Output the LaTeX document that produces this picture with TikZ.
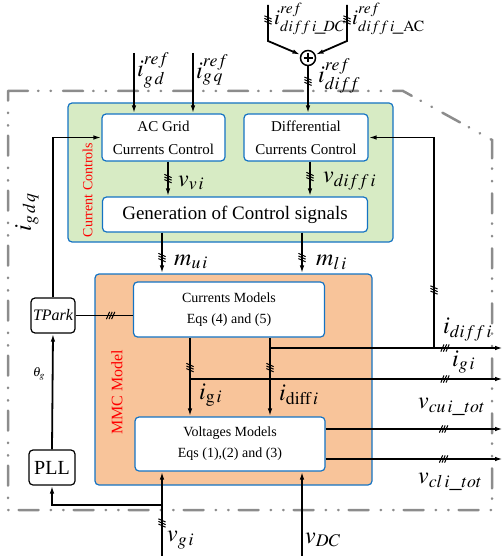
\documentclass[tikz,border=0pt]{standalone}
\usepackage{mathptmx}
\usepackage[no-math]{fontspec}
\setmainfont{Liberation Serif}
\usetikzlibrary{arrows.meta, positioning, calc, decorations.markings}
\definecolor{ccgreen}{RGB}{215,235,196}
\definecolor{mmcorange}{RGB}{248,196,154}
\definecolor{boxblue}{RGB}{20,115,195}
\definecolor{framegray}{RGB}{140,140,140}

\begin{document}
\begin{tikzpicture}[x=1pt, y=-1pt,
  areabox/.style={draw=boxblue, line width=1.2pt, rounded corners=4pt, inner sep=0pt},
  blockbox/.style={draw=boxblue, line width=1.2pt, rounded corners=4pt, fill=white, align=center, inner sep=0pt},
  smallbox/.style={draw, line width=1.2pt, rounded corners=4pt, fill=white, inner sep=0pt},
  sig/.style={line width=1.8pt},
  arr/.style={sig, -{Latex[length=8pt,width=4.5pt]}},
  bus/.style={postaction={decorate, decoration={markings, mark=at position #1 with {
      \foreach \k in {-2.6,0,2.6} \draw[-, line width=1pt] (\k pt-1.6pt,-3.6pt) -- (\k pt+1.6pt,3.6pt);}}}},
  lab/.style={anchor=west, inner sep=0pt, font=\fontsize{24}{26}\selectfont},
]
  \useasboundingbox (0,0) rectangle (503,556);

  % outer frame
  \draw[framegray, line width=2.5pt, line cap=round,
    dash pattern=on 20pt off 10pt on 0.5pt off 12pt on 0.5pt off 12pt]
    (8,91) -- (403,91) -- (492,140) -- (492,510) -- (8,510) -- cycle;

  % areas
  \node[areabox, fill=ccgreen, minimum width=325, minimum height=139] (cc) at (230.5,172.5) {};
  \node[red, rotate=90, font=\fontsize{14}{14}\selectfont] (cclab) at (87.5,190) {Current Controls};
  \node[areabox, fill=mmcorange, minimum width=277, minimum height=211] (mmc) at (233.5,379.5) {};
  \node[red, rotate=90, font=\fontsize{16}{16}\selectfont] (mmclab) at (117,392) {MMC Model};

  % blocks
  \node[blockbox, minimum width=123, minimum height=47, font=\fontsize{15}{23}\selectfont] (acc) at (163.5,137.5) {AC Grid\\Currents Control};
  \node[blockbox, minimum width=124, minimum height=47, font=\fontsize{15}{23}\selectfont] (dcc) at (306,137.5) {Differential\\Currents Control};
  \node[blockbox, minimum width=265, minimum height=35, font=\fontsize{19}{20}\selectfont] (gen) at (235,214.5) {Generation of Control signals};
  \node[blockbox, minimum width=191, minimum height=55, font=\fontsize{14}{21}\selectfont] (cm) at (229,309.5) {Currents Models\\Eqs (4) and (5)};
  \node[blockbox, minimum width=190, minimum height=54, font=\fontsize{14}{21}\selectfont] (vm) at (230,444) {Voltages Models\\Eqs (1),(2) and (3)};
  \node[smallbox, minimum width=44, minimum height=35, font=\fontsize{16}{16}\selectfont\itshape] (tp) at (53,315.5) {TPark};
  \node[smallbox, minimum width=46, minimum height=35, font=\fontsize{20}{20}\selectfont] (pll) at (52,467.5) {PLL};
  \node[draw, circle, line width=1.5pt, minimum size=15, inner sep=0pt, fill=white] (sum) at (308,58) {};
  \draw[line width=1.6pt] ($(sum.center)+(-4.5,0)$) -- ($(sum.center)+(4.5,0)$)
    ($(sum.center)+(0,-4.5)$) -- ($(sum.center)+(0,4.5)$);

  % references
  \coordinate (igdin) at (134,53);
  \coordinate (igqin) at (193,53);
  \draw[arr] (igdin) -- (igdin |- acc.north);
  \draw[arr] (igqin) -- (igqin |- acc.north);
  \coordinate (dcin) at (268,5);
  \coordinate (dcbend) at (268,41);
  \coordinate (acin) at (347,5);
  \coordinate (acbend) at (347,41);
  \draw[arr, bus=15pt] (dcin) -- (dcbend) -- (sum);
  \draw[arr, bus=15pt] (acin) -- (acbend) -- (sum);
  \draw[arr, bus=15pt] (sum) -- (sum |- dcc.north);

  % control signals
  \coordinate (vvix) at (168,0);
  \coordinate (vdix) at (310,0);
  \coordinate (muix) at (162,0);
  \coordinate (mlix) at (302,0);
  \draw[arr, bus=17pt] (vvix |- acc.south) -- (vvix |- gen.north);
  \draw[arr, bus=15pt] (vdix |- dcc.south) -- (vdix |- gen.north);
  \draw[arr, bus=25pt] (muix |- gen.south) -- (muix |- mmc.north);
  \draw[arr, bus=25pt] (mlix |- gen.south) -- (mlix |- mmc.north);

  % park and pll
  \draw[arr] (tp.north) |- (acc.west);
  \draw[sig, bus=35pt] (tp.east) -- (tp.east -| cm.west);
  \draw[arr] (pll.north) -- (tp.south);

  % currents
  \coordinate (igx) at (190,0);
  \coordinate (idx) at (270,0);
  \draw[arr, bus=30pt] (igx |- cm.south) -- (igx |- vm.north);
  \draw[arr, bus=30pt] (idx |- cm.south) -- (idx |- vm.north);
  \coordinate (igj) at (190,379);
  \coordinate (igout) at (503,379);
  \coordinate (idj) at (270,348);
  \coordinate (idout) at (503,348);
  \coordinate (fbj) at (434,348);
  \draw[arr, bus=255pt] (igj) -- (igout);
  \draw[arr, bus=175pt] (idj) -- (idout);
  \draw[arr, bus=58pt] (fbj) |- (dcc.east);

  % voltages
  \coordinate (vcuout) at (503,429);
  \coordinate (vclout) at (503,459);
  \draw[arr, bus=118pt] (vm.east |- vcuout) -- (vcuout);
  \draw[arr, bus=118pt] (vm.east |- vclout) -- (vclout);
  \coordinate (vgin) at (162,556);
  \coordinate (vgj) at (162,505);
  \coordinate (vdcin) at (302,556);
  \draw[arr, bus=33pt] (vgin) -- (vgin |- vm.south);
  \draw[arr] (vgj) -| (pll.south);
  \draw[arr] (vdcin) -- (vdcin |- vm.south);

  % labels
  \node[lab] (igdlab) at (137,70) {$i^{ref}_{g\,d}$};
  \node[lab] (igqlab) at (196,70) {$i^{ref}_{g\,q}$};
  \node[lab, font=\fontsize{21}{22}\selectfont] (idclab) at (274,19) {$i^{ref}_{diff\,i\!\_\!DC}$};
  \node[lab, font=\fontsize{21}{22}\selectfont] (iaclab) at (352,19) {$i^{ref}_{diff\,i\!\_\mathrm{AC}}$};
  \node[lab] (idreflab) at (318,76) {$i^{ref}_{diff}$};
  \node[lab] (vvilab) at (178,183) {$v_{v\,i}$};
  \node[lab] (vdlab) at (323,181) {$v_{diff\,i}$};
  \node[lab] (muilab) at (174,262) {$m_{u\,i}$};
  \node[lab] (mlilab) at (316,262) {$m_{l\,i}$};
  \node[lab, rotate=90, anchor=center] (igdqlab) at (27,212) {$i_{g\,d\,q}$};
  \node[lab, anchor=center, font=\fontsize{13}{13}\selectfont] (thlab) at (39,374) {$\theta_g$};
  \node[lab] (iginlab) at (199,395) {$i_{\mathrm{g}\,i}$};
  \node[lab] (idinlab) at (279,395) {$i_{\mathrm{diff}\,i}$};
  \node[lab] (idoutlab) at (443,330) {$i_{diff\,i}$};
  \node[lab] (igoutlab) at (452,362) {$i_{g\,i}$};
  \node[lab] (vculab) at (418,407) {$v_{cu\,i\_tot}$};
  \node[lab] (vcllab) at (418,482) {$v_{cl\,i\_tot}$};
  \node[lab] (vglab) at (167,540) {$v_{g\,i}$};
  \node[lab] (vdclab) at (305,540) {$v_{DC}$};
\end{tikzpicture}
\end{document}
